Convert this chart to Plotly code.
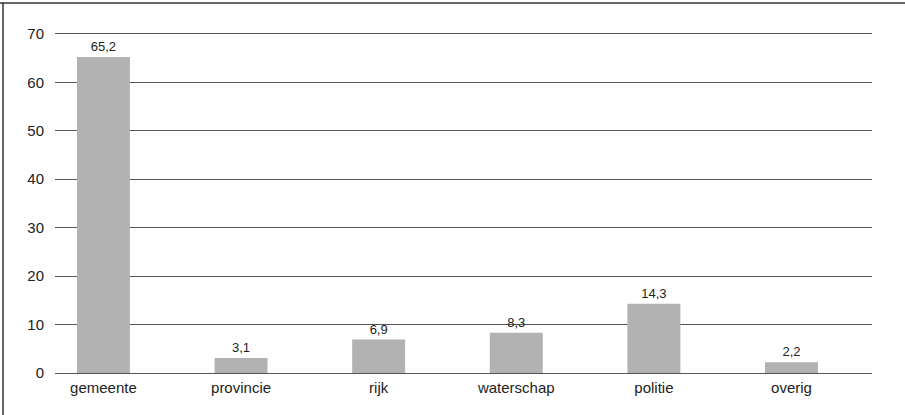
import plotly.graph_objects as go

categories = ["gemeente", "provincie", "rijk", "waterschap", "politie", "overig"]
values = [65.2, 3.1, 6.9, 8.3, 14.3, 2.2]
y_ticks = [0, 10, 20, 30, 40, 50, 60, 70]

FONT = "Liberation Sans, Arial, sans-serif"

# plot area: 817 x 344 px, y range 0..71 so the 70 gridline sits inside the frame
PW, PH = 817, 344

fig = go.Figure(
    go.Bar(
        x=categories,
        y=values,
        marker=dict(color="#b2b2b2", line=dict(width=0)),
        width=0.385,
        text=values,
        texttemplate="%{y:.1f}",
        textposition="outside",
        constraintext="none",
        textfont=dict(family=FONT, size=13, color="#222222"),
        cliponaxis=False,
    )
)

fig.update_layout(
    width=905,
    height=415,
    margin=dict(l=55, r=33, t=29, b=42),
    paper_bgcolor="white",
    plot_bgcolor="white",
    separators=",.",
    showlegend=False,
    font=dict(family=FONT, size=15, color="#222222"),
    shapes=[
        # frame lines along the top and left edges
        dict(type="line", xref="paper", yref="paper", x0=-55 / PW, x1=1 + 33 / PW,
             y0=1 + 26 / PH, y1=1 + 26 / PH, line=dict(color="#333333", width=1.5)),
        dict(type="line", xref="paper", yref="paper", x0=-52 / PW, x1=-52 / PW,
             y0=-42 / PH, y1=1 + 26 / PH, line=dict(color="#333333", width=1.5)),
    ],
)

fig.update_xaxes(
    type="category",
    categoryorder="array",
    categoryarray=categories,
    range=[-0.352, 5.585],
    showgrid=False,
    showline=False,
    zeroline=False,
    ticks="",
    ticklabelstandoff=4,
    tickfont=dict(family=FONT, size=15, color="#222222"),
)

fig.update_yaxes(
    range=[0, 71],
    tickvals=y_ticks,
    showgrid=True,
    gridcolor="#555555",
    gridwidth=1.2,
    zeroline=True,
    zerolinecolor="#555555",
    zerolinewidth=1.2,
    showline=False,
    ticks="",
    ticklabelstandoff=10,
    tickfont=dict(family=FONT, size=15, color="#222222"),
)

fig.write_html("out.html")
